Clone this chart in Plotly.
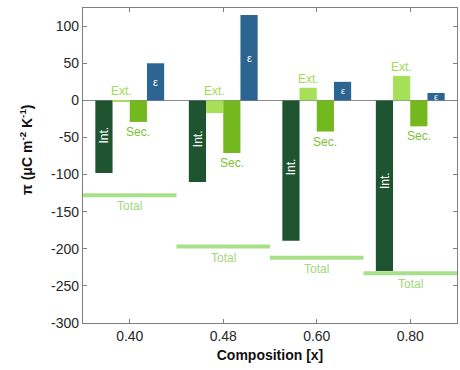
import plotly.graph_objects as go

categories = ["0.40", "0.48", "0.60", "0.80"]
int_vals = [-98, -110, -189, -230]
ext_vals = [-2, -17, 17, 33]
sec_vals = [-29, -71, -42, -35]
eps_vals = [50, 115, 25, 10]
total_vals = [-128, -197, -212, -233]
y_ticks = [100, 50, 0, -50, -100, -150, -200, -250, -300]
y_tick_labels = [str(v) for v in y_ticks]

C_INT = "#1f5431"
C_EXT = "#a6df58"
C_SEC = "#74b81f"
C_EPS = "#2c6591"
C_TOT = "#a8e08a"
C_EXT_T = "#9fda52"
C_SEC_T = "#7dc133"
C_TOT_T = "#9fd87c"

pos = list(range(1, len(categories) + 1))
w = 0.184
FONT = "Liberation Sans, Arial, sans-serif"

fig = go.Figure()
for vals, col, off in [(int_vals, C_INT, -1.5), (ext_vals, C_EXT, -0.5),
                       (sec_vals, C_SEC, 0.5), (eps_vals, C_EPS, 1.5)]:
    fig.add_trace(go.Bar(x=[p + off * w for p in pos], y=vals, width=w,
                         marker=dict(color=col, line=dict(width=0)),
                         showlegend=False))

for p, t in zip(pos, total_vals):
    fig.add_trace(go.Scatter(x=[p - 0.5, p + 0.5], y=[t, t], mode="lines",
                             line=dict(color=C_TOT, width=4), showlegend=False))

ann = []
for i, p in enumerate(pos):
    ann.append(dict(x=p - 1.5 * w, y=int_vals[i] * 0.47, text="Int.", textangle=-90,
                    showarrow=False, font=dict(color="white", size=12, family=FONT)))
    ann.append(dict(x=p - 0.5 * w, y=max(ext_vals[i], 0), text="Ext.", yanchor="bottom",
                    yshift=0, showarrow=False, font=dict(color=C_EXT_T, size=12, family=FONT)))
    ann.append(dict(x=p + 0.5 * w, y=sec_vals[i], text="Sec.", yanchor="top",
                    yshift=-1, showarrow=False, font=dict(color=C_SEC_T, size=12, family=FONT)))
    ann.append(dict(x=p + 1.5 * w, y=eps_vals[i] / 2, text="ε",
                    showarrow=False,
                    font=dict(color="white", size=11 if eps_vals[i] > 30 else 9, family=FONT)))
    ann.append(dict(x=p, y=total_vals[i], text="Total", yanchor="top", yshift=-2,
                    showarrow=False, font=dict(color=C_TOT_T, size=12, family=FONT)))

ann.append(dict(xref="paper", yref="paper", x=-0.152, y=0.55, textangle=-90,
                text="<b>π (μC m<sup>-2</sup> K<sup>-1</sup>)</b>", showarrow=False,
                xanchor="center", yanchor="middle",
                font=dict(size=14, color="#111", family=FONT)))

fig.update_layout(
    width=460, height=370,
    margin=dict(l=83, r=3, t=8, b=47),
    plot_bgcolor="white", paper_bgcolor="white",
    barmode="overlay",
    annotations=ann,
    font=dict(family=FONT, color="#262626", size=14),
    xaxis=dict(range=[0.5, 4.5], tickmode="array", tickvals=pos, ticktext=categories,
               showline=True, linecolor="#7f7f7f", linewidth=1.3, mirror="ticks",
               ticks="inside", ticklen=4, tickcolor="#7f7f7f", showgrid=False, zeroline=False,
               tickfont=dict(size=14, color="#262626"),
               title=dict(text="<b>Composition [x]</b>", font=dict(size=14, color="#111"),
                          standoff=7)),
    yaxis=dict(range=[-300, 124.5], tickmode="array", tickvals=y_ticks,
               ticktext=y_tick_labels,
               showline=True, linecolor="#7f7f7f", linewidth=1.3, mirror="ticks",
               ticks="inside", ticklen=4, tickcolor="#7f7f7f", showgrid=False,
               zeroline=True, zerolinecolor="#8a8a8a", zerolinewidth=1,
               tickfont=dict(size=14, color="#262626")),
)

fig.write_html("out.html")
